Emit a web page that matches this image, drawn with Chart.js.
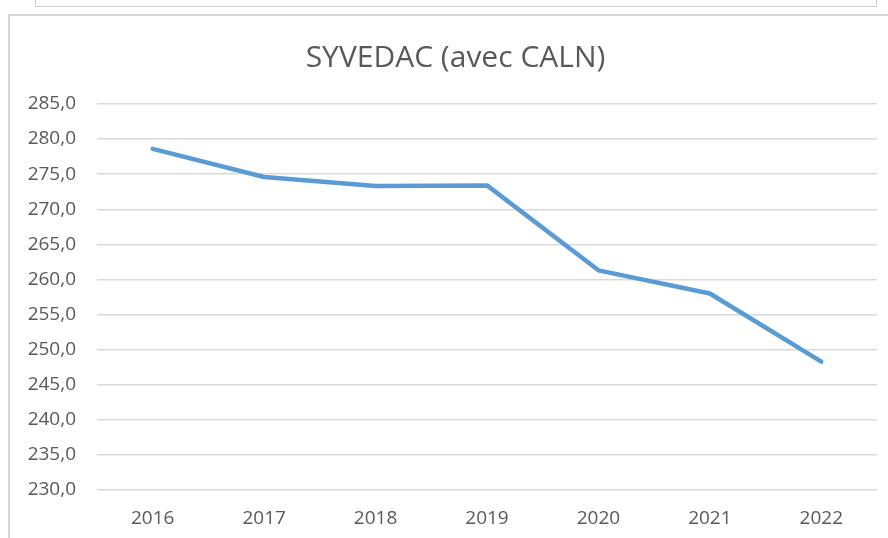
<!DOCTYPE html>
<html>
<head>
<meta charset="utf-8">
<script src="https://cdn.jsdelivr.net/npm/chart.js@4/dist/chart.umd.min.js"></script>
<style>
  html, body { margin: 0; padding: 0; background: #ffffff; }
  #wrap { position: relative; width: 888px; height: 538px; overflow: hidden; background: #fff; }
  #topbox { position: absolute; left: 35px; top: -4px; width: 840px; height: 9px; border: 1.5px solid #cfcfcf; background: #fff; }
  #frame { position: absolute; left: 8px; top: 14px; width: 900px; height: 540px; border-left: 2px solid #d6d6d6; border-top: 2px solid #d6d6d6; }
  #c { position: absolute; left: 0; top: 0; }
</style>
</head>
<body>
<div id="wrap">
  <div id="topbox"></div>
  <div id="frame"></div>
  <canvas id="c" width="888" height="538"></canvas>
</div>
<script>
const chartTitle = "SYVEDAC (avec CALN)";
const categories = ["2016", "2017", "2018", "2019", "2020", "2021", "2022"];
const values = [278.6, 274.6, 273.3, 273.4, 261.3, 258.0, 248.3];
const yMin = 230;
const yMax = 285;
const yStep = 5;

const textColor = "#595959";
const fontFamily = "'Open Sans', 'Liberation Sans', sans-serif";

const titleShift = {
  id: "titleShift",
  afterLayout(chart) {
    const t = chart.titleBlock;
    if (t) { t.left = 34; t.right = 877; }
  }
};

new Chart(document.getElementById("c"), {
  type: "line",
  data: {
    labels: categories,
    datasets: [{
      data: values,
      borderColor: "#5B9BD5",
      borderWidth: 4.5,
      pointRadius: 0,
      tension: 0,
      fill: false,
      borderCapStyle: "round",
      borderJoinStyle: "round"
    }]
  },
  plugins: [titleShift],
  options: {
    responsive: false,
    animation: false,
    devicePixelRatio: 1,
    layout: { padding: { left: 10, right: 11, top: 0, bottom: 0 } },
    plugins: {
      legend: { display: false },
      tooltip: { enabled: false },
      title: {
        display: true,
        text: chartTitle,
        color: textColor,
        font: { family: fontFamily, size: 30, weight: "normal" },
        padding: { top: 40, bottom: 28 }
      }
    },
    scales: {
      x: {
        offset: true,
        grid: { display: false, drawTicks: false },
        border: { display: false },
        ticks: {
          color: textColor,
          font: { family: fontFamily, size: 19 },
          padding: 17,
          maxRotation: 0
        },
        afterFit: (s) => { s.height = 48; }
      },
      y: {
        min: yMin,
        max: yMax,
        grid: { color: "#d9d9d9", lineWidth: 1.5, drawTicks: false },
        border: { display: false },
        ticks: {
          stepSize: yStep,
          color: textColor,
          font: { family: fontFamily, size: 19 },
          padding: 21,
          callback: (v) => Number(v).toFixed(1).replace(".", ",")
        },
        afterFit: (s) => { s.width = 87; }
      }
    }
  }
});
</script>
</body>
</html>
